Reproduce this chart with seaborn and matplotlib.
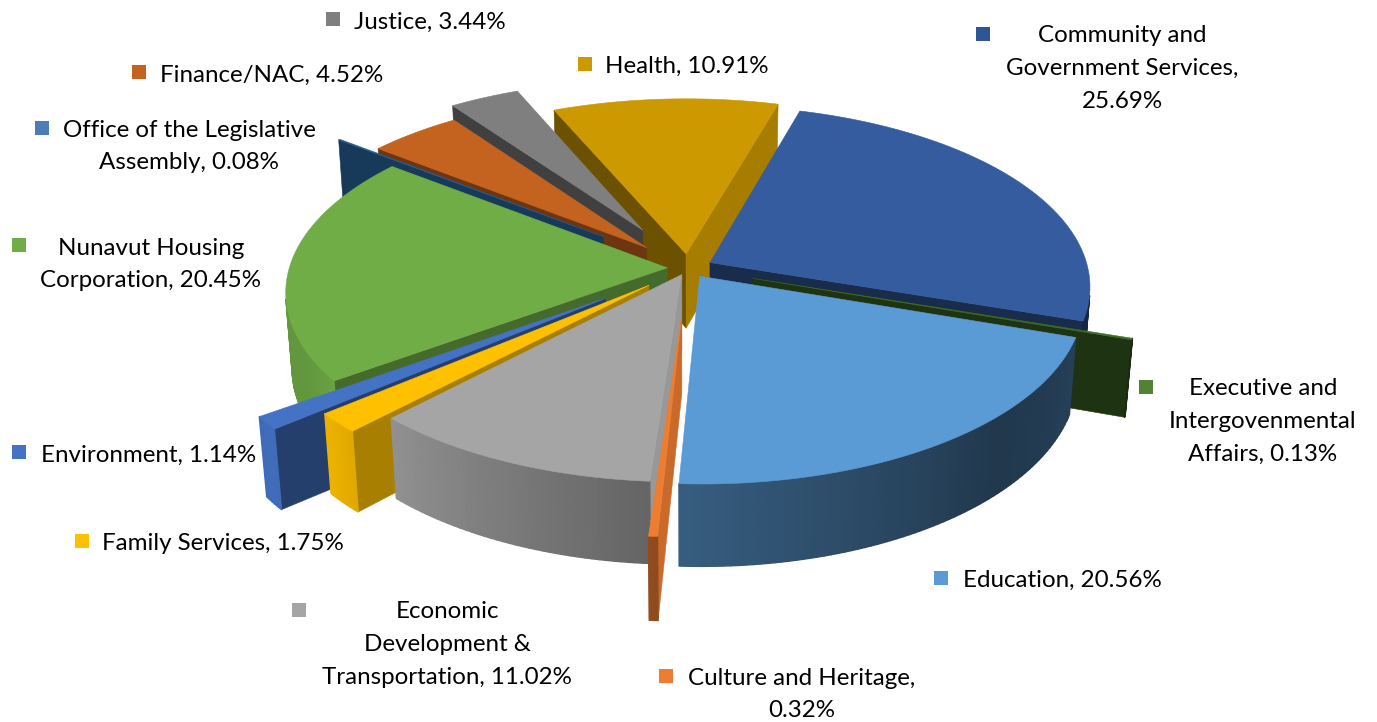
import numpy as np
import pandas as pd
import matplotlib
matplotlib.use("Agg")
import matplotlib.pyplot as plt
import seaborn as sns

# Share of spending by department, clockwise from the first slice
departments = ["Community and\nGovernment Services,", "Executive and\nIntergovenmental\nAffairs,",
               "Education,", "Culture and Heritage,\n", "Economic\nDevelopment &\nTransportation,",
               "Family Services,", "Environment,", "Nunavut Housing\nCorporation,",
               "Office of the Legislative\nAssembly,", "Finance/NAC,", "Justice,", "Health,"]
shares = [25.69, 0.13, 20.56, 0.32, 11.02, 1.75, 1.14, 20.45, 0.08, 4.52, 3.44, 10.91]

# Appearance of each slice, same order as above
top_colors = ["#355C9F", "#3F6B25", "#5B9BD5", "#ED7D31", "#A5A5A5", "#FFC000",
              "#4472C4", "#70AD47", "#255E91", "#C4621F", "#7F7F7F", "#CC9900"]
key_colors = ["#2F5597", "#548235", "#5B9BD5", "#ED7D31", "#A5A5A5", "#FFC000",
              "#4472C4", "#70AD47", "#4A7EB5", "#C4621F", "#7F7F7F", "#CC9900"]
explode = [0.066, 0.18, 0.055, 0.26, 0.04, 0.14, 0.27, 0.055, 0.29, 0.16, 0.25, 0.08]
start_shade = [0.6, 0.5, 0.6, 0.85, 0.92, 0.66, 0.55, 0.62, 0.62, 0.55, 0.5, 0.53]
end_shade = [0.48, 0.48, 0.6, 0.7, 0.7, 0.7, 0.7, 0.6, 0.6, 0.6, 0.6, 0.82]
draw_order = [11, 10, 9, 8, 0, 7, 1, 6, 5, 4, 3, 2]

# Label anchors in pixels: key square centre, text anchor, text alignment
key_xy = [(983, 34), (1146, 387), (941, 578), (666, 676), (299, 610), (82, 541),
          (19, 452), (19, 245), (42, 128), (139, 72), (333, 19), (585, 64)]
text_xy = [(1122, 68.5), (1263, 421.5), (963, 580.5), (802, 694.5), (447, 644.5), (102, 543.5),
           (41, 455.5), (151, 264.5), (189, 146.5), (160, 75.5), (354, 22), (605, 66.5)]
text_ha = ["center", "center", "left", "center", "center", "left",
           "left", "center", "center", "left", "left", "left"]

# Camera for the tilted pie
START_ANGLE = 16.0
ELEV = np.radians(28.2)
DIST = 6.8
FOCAL = 2570.0
THICK = 0.228
CX, CY = 688.0, 268.0

# Brightness of the rim as it turns around the pie
RIM_ANGLE = [90, 135, 183, 223, 232, 245, 310, 380]
RIM_SHADE = [0.45, 0.36, 0.60, 0.87, 0.95, 0.87, 0.88, 0.55]


def project(x, y, z):
    x, y, z = np.asarray(x, float), np.asarray(y, float), np.asarray(z, float)
    w = DIST + y * np.cos(ELEV) - z * np.sin(ELEV)
    return CX + FOCAL * x / w, CY - FOCAL * (y * np.sin(ELEV) + z * np.cos(ELEV)) / w


def shaded(color, k):
    return tuple(np.clip(np.array(matplotlib.colors.to_rgb(color)) * k, 0, 1))


def face(ax, xs, ys, color, z, cull=True, lw=0.4):
    area = 0.5 * np.sum(xs * np.roll(ys, -1) - np.roll(xs, -1) * ys)
    if cull and area > 0:
        return
    ax.fill(xs, ys, facecolor=color, edgecolor=color, linewidth=lw, zorder=z, joinstyle="round")


sns.set_theme(style="white")
plt.rcParams["font.family"] = ["Lato", "DejaVu Sans"]

fig = plt.figure(figsize=(13.77, 7.22), dpi=100)
ax = fig.add_axes([0, 0, 1, 1])
ax.set_xlim(0, 1377)
ax.set_ylim(722, 0)
ax.axis("off")

values = np.array(shares)
edges = START_ANGLE + np.concatenate([[0], np.cumsum(values / values.sum())]) * 360

for rank, i in enumerate(draw_order):
    a0, a1 = edges[i], edges[i + 1]
    mid = np.radians((a0 + a1) / 2)
    ox, oy = explode[i] * np.sin(mid), explode[i] * np.cos(mid)
    arc = np.radians(np.linspace(a0, a1, max(3, int(a1 - a0) + 2)))
    rx, ry = ox + np.sin(arc), oy + np.cos(arc)
    base = top_colors[i]
    z = 2 + rank * 3

    # radial walls
    for ex, ey, k, flip in [(rx[0], ry[0], start_shade[i], False), (rx[-1], ry[-1], end_shade[i], True)]:
        wx = np.array([ox, ex, ex, ox])
        wy = np.array([oy, ey, ey, oy])
        wz = np.array([0, 0, -THICK, -THICK])
        if flip:
            wx, wy, wz = wx[::-1], wy[::-1], wz[::-1]
        px, py = project(wx, wy, wz)
        face(ax, px, py, shaded(base, k), z)

    # curved rim, one facet per step so the shading varies smoothly
    for j in range(len(arc) - 1):
        wx = np.array([rx[j], rx[j + 1], rx[j + 1], rx[j]])
        wy = np.array([ry[j], ry[j + 1], ry[j + 1], ry[j]])
        wz = np.array([0, 0, -THICK, -THICK])
        px, py = project(wx, wy, wz)
        ang = np.degrees(arc[j:j + 2].mean()) % 360
        ang = ang + 360 if ang < 20 else ang
        face(ax, px, py, shaded(base, np.interp(ang, RIM_ANGLE, RIM_SHADE)), z + 1, lw=1.0)

    # top surface
    px, py = project(np.r_[ox, rx], np.r_[oy, ry], np.zeros(len(rx) + 1))
    face(ax, px, py, base, z + 2, cull=False)

# Key squares
keys = pd.DataFrame({"x": [p[0] for p in key_xy], "y": [p[1] for p in key_xy],
                     "dept": departments})
sns.scatterplot(data=keys, x="x", y="y", hue="dept", palette=dict(zip(departments, key_colors)),
                marker="s", s=105, linewidth=0, legend=False, ax=ax, zorder=60)
ax.axis("off")

# Department labels
for name, share, (tx, ty), ha in zip(departments, shares, text_xy, text_ha):
    if name.endswith("\n"):
        label = f"{name}{share:.2f}%"
    elif len(name.split("\n")) > 1 and name.split("\n")[-1] in ("Affairs,", "Assembly,", "Corporation,", "Transportation,"):
        label = f"{name} {share:.2f}%"
    elif "\n" in name:
        label = f"{name}\n{share:.2f}%"
    else:
        label = f"{name} {share:.2f}%"
    ax.text(tx, ty, label, ha=ha, va="center", multialignment="center", fontsize=17.4,
            color="black", linespacing=1.7, zorder=70)

fig.savefig("out.png", dpi=100, facecolor="white")
